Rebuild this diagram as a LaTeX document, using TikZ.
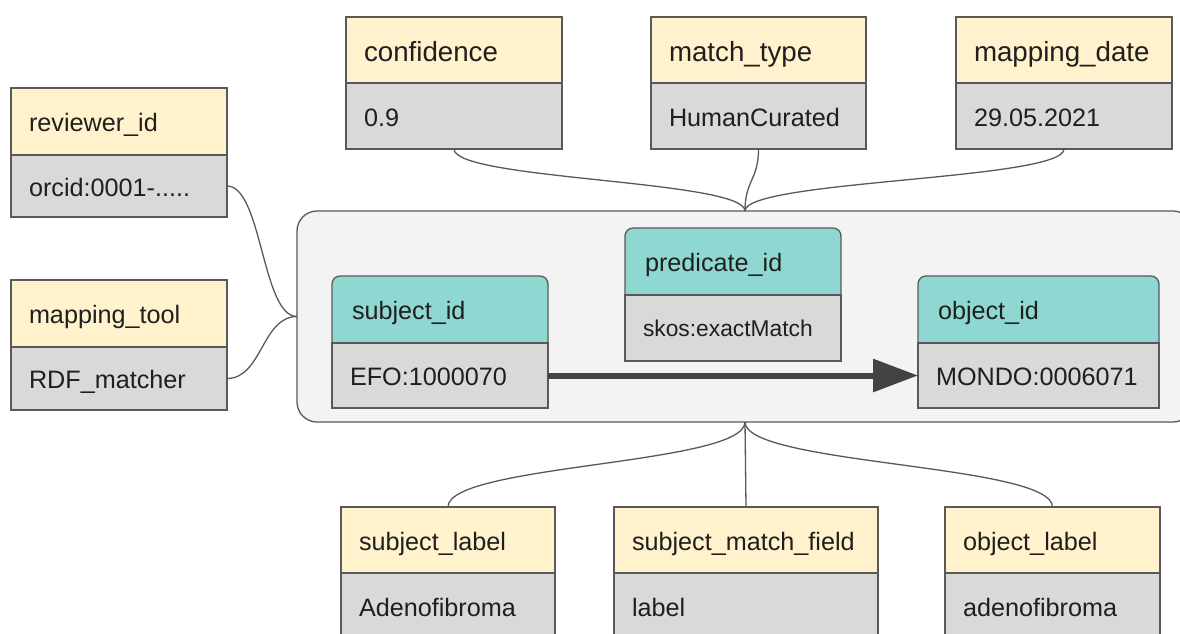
\documentclass[tikz,border=0pt]{standalone}
\usepackage{fontspec}
\setmainfont{Liberation Sans}
\usetikzlibrary{arrows.meta}
\definecolor{hdr}{HTML}{FFF2CC}
\definecolor{val}{HTML}{D9D9D9}
\definecolor{tealc}{HTML}{8FD8D2}
\definecolor{bord}{HTML}{595959}
\definecolor{contfill}{HTML}{F3F3F3}
\definecolor{ink}{HTML}{1F1F1F}
\definecolor{arrowc}{HTML}{434343}
\tikzset{
 cell/.style={draw=bord, line width=1.3pt, inner sep=0pt, outer sep=0pt, rectangle},
 hdrbox/.style={cell, fill=hdr},
 keybox/.style={cell, fill=tealc, rounded corners=8pt},
 valbox/.style={cell, fill=val},
 txt/.style={inner sep=0pt, outer sep=0pt, text height=20pt, text depth=0pt, text=ink, anchor=west, font=\fontsize{25.2}{30}\selectfont},
 bigtxt/.style={txt, text height=23pt, font=\fontsize{27.7}{33}\selectfont},
 smalltxt/.style={txt, text height=17pt, font=\fontsize{22.8}{27}\selectfont},
 conn/.style={draw=bord, line width=1.3pt},
 container/.style={draw=bord, fill=contfill, line width=1.3pt, rounded corners=20pt, inner sep=0pt, outer sep=0pt, rectangle},
 rel/.style={draw=arrowc, line width=6pt, -{Triangle[length=45pt,width=32pt]}}
}
\newcommand\mkfield[9]{%
 \node[hdrbox, minimum width=#4pt, minimum height=#5pt, anchor=north west] (#1h) at (#2,#3) {};
 \node[valbox, minimum width=#4pt, minimum height=#6pt, anchor=north west] (#1) at (#2,#3+#5) {};
 \node[#7] (#1ht) at (#2+18,#3+#5/2) {#8};
 \node[txt] (#1vt) at (#2+18,#3+#5+#6/2) {#9};
}
\newcommand\mkkey[9]{%
 \node[keybox, minimum width=#4pt, minimum height=#5pt+16pt, anchor=north west] (#1h) at (#2,#3) {};
 \node[valbox, minimum width=#4pt, minimum height=#6pt, anchor=north west] (#1) at (#2,#3+#5) {};
 \node[txt] (#1ht) at (#2+20,#3+#5/2) {#7};
 \node[#9] (#1vt) at (#2+18,#3+#5+#6/2) {#8};
}
\begin{document}
\begin{tikzpicture}[x=1pt,y=-1pt]
\useasboundingbox (0,0) rectangle (1180,633);
\clip (0,0) rectangle (1180,633);
\fill[white] (0,0) rectangle (1180,633);
% container
\node[container, minimum width=896pt, minimum height=211pt, anchor=north west] (cont) at (297,211) {};
% top fields
\mkfield{conf}{346}{17}{216}{66}{66}{bigtxt}{confidence}{0.9}
\mkfield{mt}{651}{17}{215}{66}{66}{bigtxt}{match\_type}{HumanCurated}
\mkfield{md}{956}{17}{216}{66}{66}{bigtxt}{mapping\_date}{29.05.2021}
% left fields
\mkfield{rev}{11}{88}{216}{67}{62}{txt}{reviewer\_id}{orcid:0001-.....}
\mkfield{tool}{11}{280}{216}{67}{63}{txt}{mapping\_tool}{RDF\_matcher}
% bottom fields
\mkfield{slab}{341}{507}{214}{66}{66}{txt}{subject\_label}{Adenofibroma}
\mkfield{smf}{614}{507}{264}{66}{66}{txt}{subject\_match\_field}{label}
\mkfield{olab}{945}{507}{215}{66}{66}{txt}{object\_label}{adenofibroma}
% key fields inside container
\mkkey{subj}{332}{276}{216}{67}{65}{subject\_id}{EFO:1000070}{txt}
\mkkey{pred}{625}{228}{216}{67}{66}{predicate\_id}{skos:exactMatch}{smalltxt}
\mkkey{obj}{918}{276}{241}{67}{65}{object\_id}{MONDO:0006071}{txt}
% connectors
\draw[conn] (rev.east) .. controls +(35,0) and +(-35,0) .. (cont.west);
\draw[conn] (tool.east) .. controls +(35,0) and +(-35,0) .. (cont.west);
\draw[conn] (conf.south) .. controls +(0,31) and +(0,-31) .. (cont.north);
\draw[conn] (mt.south) .. controls +(0,31) and +(0,-31) .. (cont.north);
\draw[conn] (md.south) .. controls +(0,31) and +(0,-31) .. (cont.north);
\draw[conn] (cont.south) .. controls +(0,43) and +(0,-43) .. (slabh.north);
\draw[conn] (cont.south) -- (smfh.north);
\draw[conn] (cont.south) .. controls +(0,43) and +(0,-43) .. (olabh.north);
\draw[rel] (subj.east) -- (obj.west);
\end{tikzpicture}
\end{document}
